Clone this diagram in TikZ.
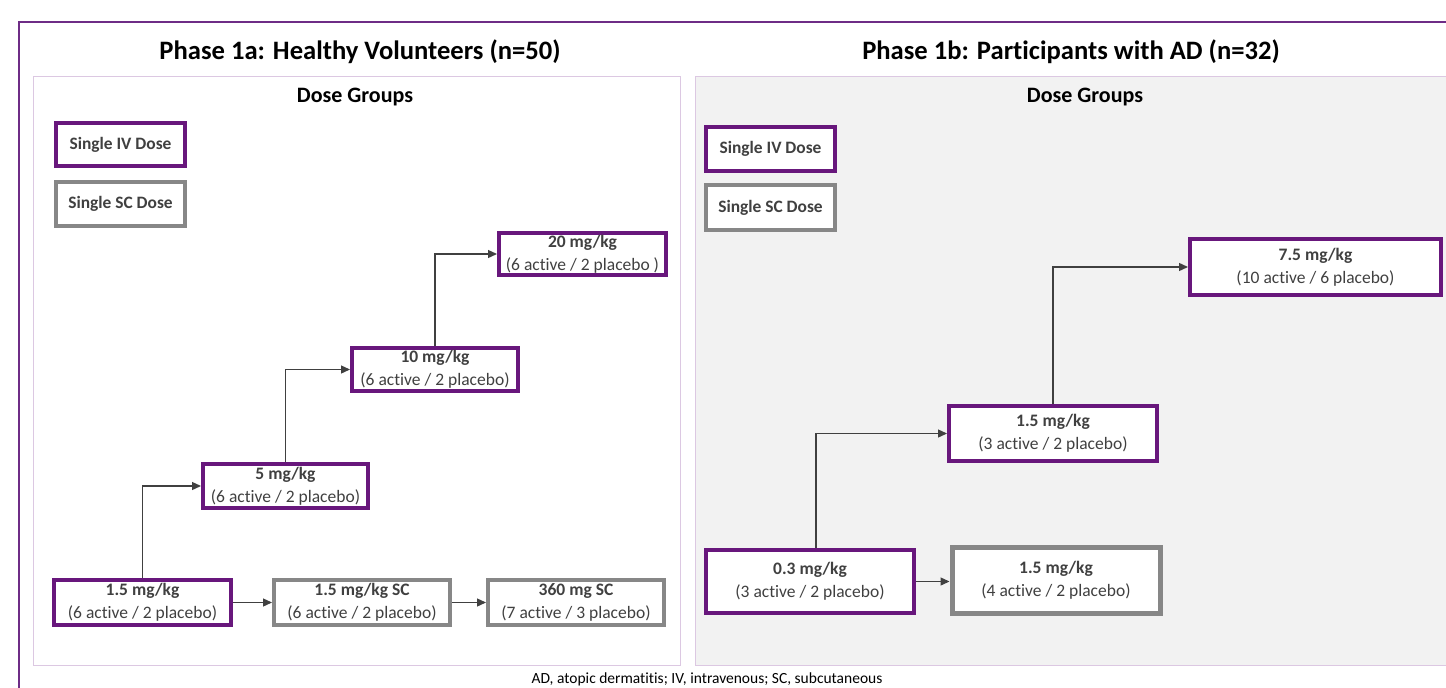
\documentclass[tikz,border=0pt]{standalone}
\usepackage{fontspec}
\setmainfont{Carlito}[Ligatures=NoCommon]
\usetikzlibrary{arrows.meta, positioning}

\definecolor{ivpurple}{HTML}{68177C}
\definecolor{scgray}{HTML}{878787}
\definecolor{framepurple}{HTML}{6E2C86}
\definecolor{panelline}{HTML}{DCC8E2}
\definecolor{panelfill}{HTML}{F2F2F2}
\definecolor{txtgray}{HTML}{404040}

\newcommand{\dosetext}[2]{\textbf{#1}\\#2}

\tikzset{
  ivbox/.style={draw=ivpurple, line width=4pt, fill=white, align=center,
    text=txtgray, inner sep=0pt, font=\fontsize{17.5}{23}\selectfont},
  scbox/.style={ivbox, draw=scgray},
  keybox/.style={font=\fontsize{17.4}{20}\selectfont\bfseries},
  link/.style={draw=txtgray, line width=1.3pt, -{Triangle[length=9pt,width=8pt]}},
  phasetitle/.style={font=\fontsize{26.6}{30}\selectfont\bfseries},
  grouptitle/.style={font=\fontsize{22}{26}\selectfont\bfseries},
}

\begin{document}
\begin{tikzpicture}[x=1pt, y=-1pt]
        \useasboundingbox (0,0) rectangle (1446,688);
        \clip (0,0) rectangle (1446,688);
        % Outer frame and panels
        \draw[framepurple, line width=1.5pt] (19,700) -- (19,22) -- (1460,22);
        \draw[panelline, line width=1pt, fill=white] (33,76) rectangle (680,665);
        \draw[panelline, line width=1pt, fill=panelfill] (695,76) rectangle (1460,665);
        % Titles
        \node[phasetitle] (titlea) at (360,52) {Phase 1a: Healthy Volunteers (n=50)};
        \node[phasetitle] (titleb) at (1071,52) {Phase 1b: Participants with AD (n=32)};
        \node[grouptitle] (groupsa) at (355,97) {Dose Groups};
        \node[grouptitle] (groupsb) at (1085,97) {Dose Groups};
        % Phase 1a boxes
        \node[ivbox, keybox, minimum width=129pt, minimum height=43pt] (liv) at (120.5,144.5) {Single IV Dose};
        \node[scbox, keybox, minimum width=129pt, minimum height=44pt] (lsc) at (120.5,204) {Single SC Dose};
        \node[ivbox, minimum width=167pt, minimum height=42pt] (l20) at (582.5,254) {\dosetext{20 mg/kg}{(6 active / 2 placebo )}};
        \node[ivbox, minimum width=166pt, minimum height=43pt] (l10) at (435,369.5) {\dosetext{10 mg/kg}{(6 active / 2 placebo)}};
        \node[ivbox, minimum width=165pt, minimum height=44pt] (l5) at (285.5,486) {\dosetext{5 mg/kg}{(6 active / 2 placebo)}};
        \node[ivbox, minimum width=177pt, minimum height=45pt] (l15) at (142.5,602.5) {\dosetext{1.5 mg/kg}{(6 active / 2 placebo)}};
        \node[scbox, minimum width=176pt, minimum height=45pt] (l15sc) at (362,602.5) {\dosetext{1.5 mg/kg SC}{(6 active / 2 placebo)}};
        \node[scbox, minimum width=176pt, minimum height=45pt] (l360) at (576,602.5) {\dosetext{360 mg SC}{(7 active / 3 placebo)}};
        % Phase 1a arrows
        \draw[link] (l15.north) |- (l5.west);
        \draw[link] (l5.north) |- (l10.west);
        \draw[link] (l10.north) |- (l20.west);
        \draw[link] (l15.east) -- (l15sc.west);
        \draw[link] (l15sc.east) -- (l360.west);
        % Phase 1b boxes
        \node[ivbox, keybox, minimum width=129pt, minimum height=44pt] (riv) at (770.5,149) {Single IV Dose};
        \node[scbox, keybox, minimum width=129pt, minimum height=45pt] (rsc) at (770.5,207.5) {Single SC Dose};
        \node[ivbox, minimum width=251pt, minimum height=56pt] (r75) at (1315.5,267) {\dosetext{7.5 mg/kg}{(10 active / 6 placebo)}};
        \node[ivbox, minimum width=208pt, minimum height=55pt] (r15) at (1053,433.5) {\dosetext{1.5 mg/kg}{(3 active / 2 placebo)}};
        \node[ivbox, minimum width=208pt, minimum height=63pt] (r03) at (810,581.5) {\dosetext{0.3 mg/kg}{(3 active / 2 placebo)}};
        \node[scbox, line width=5pt, minimum width=208pt, minimum height=66pt] (r15sc) at (1056,580) {\dosetext{1.5 mg/kg}{(4 active / 2 placebo)}};
        % Phase 1b arrows
        \draw[link] ([xshift=6pt]r03.north) |- (r15.west);
        \draw[link] (r15.north) |- (r75.west);
        \draw[link] (r03.east) -- (r03.east -| r15sc.west);
        % Footnote
        \node[font=\fontsize{15.5}{18}\selectfont, inner sep=0pt] (foot) at (707,679) {AD, atopic dermatitis; IV, intravenous; SC, subcutaneous};
\end{tikzpicture}
\end{document}
